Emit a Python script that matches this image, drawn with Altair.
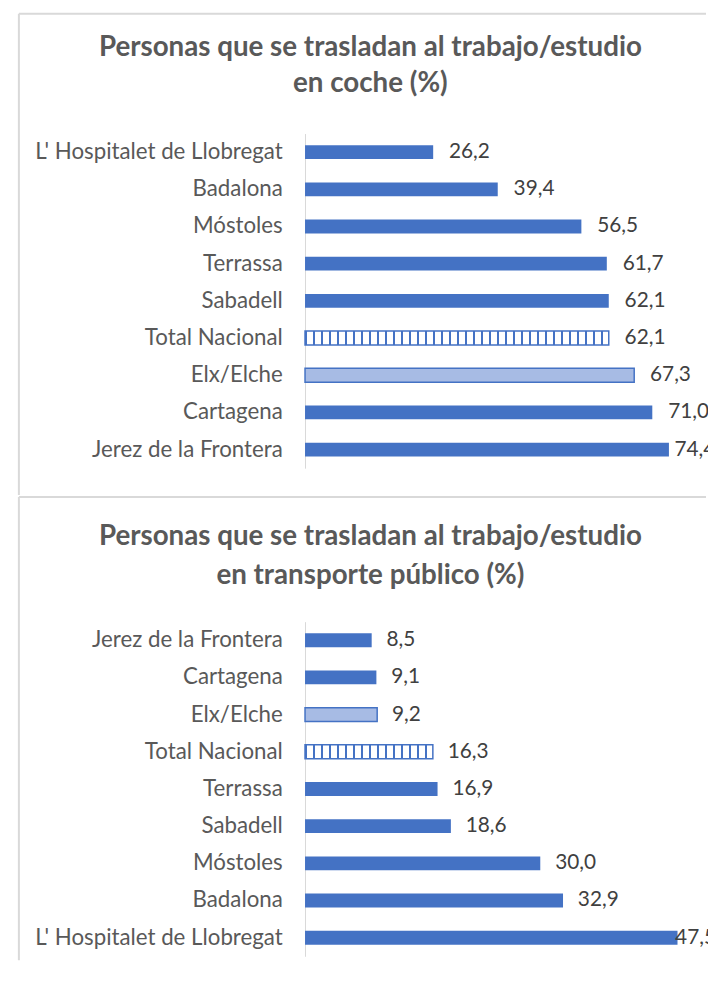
import altair as alt
import pandas as pd

# ---- data ----
cities_coche = ["L' Hospitalet de Llobregat", "Badalona", "Móstoles", "Terrassa", "Sabadell",
                "Total Nacional", "Elx/Elche", "Cartagena", "Jerez de la Frontera"]
coche = [26.2, 39.4, 56.5, 61.7, 62.1, 62.1, 67.3, 71.0, 74.4]

cities_tp = ["Jerez de la Frontera", "Cartagena", "Elx/Elche", "Total Nacional", "Terrassa",
             "Sabadell", "Móstoles", "Badalona", "L' Hospitalet de Llobregat"]
tp = [8.5, 9.1, 9.2, 16.3, 16.9, 18.6, 30.0, 32.9, 47.5]

title_coche = ["Personas que se trasladan al trabajo/estudio", "en coche (%)"]
title_tp = ["Personas que se trasladan al trabajo/estudio", "en transporte público (%)"]

# ---- style ----
BLUE = "#4472C4"
DOT_FILL = "#A7BBE4"
GRID = "#D9D9D9"
FONT = "Lato"
W = 407
H = 338


def stripes(n):
    stops = []
    for i in range(n):
        a = i / n
        b = min((i + 0.25) / n, 1.0)
        c = min((i + 1) / n, 1.0)
        stops += [
            alt.GradientStop(color=BLUE, offset=a),
            alt.GradientStop(color=BLUE, offset=b),
            alt.GradientStop(color="white", offset=b),
            alt.GradientStop(color="white", offset=c),
        ]
    return alt.LinearGradient(gradient="linear", stops=stops, x1=0, x2=1, y1=0, y2=0)


def panel(cities, values, dom_max, cap, dx, n_stripes, title, title_y, top_rule_y, bottom_y):
    df = pd.DataFrame({"ciudad": cities, "valor": values})
    base = alt.Chart(df).transform_calculate(
        etiqueta="replace(format(datum.valor, '.1f'), '.', ',')",
        lx=f"min(datum.valor, {cap})",
    )
    y = alt.Y(
        "ciudad:N",
        sort=cities,
        title=None,
        scale=alt.Scale(paddingInner=0.627, paddingOuter=0.3135),
        axis=alt.Axis(labelFont=FONT, labelFontSize=22.5, labelColor="#595959",
                      labelPadding=23, ticks=False, domainColor=GRID, domainWidth=1,
                      labelLimit=400, grid=False),
    )
    xs = alt.Scale(domain=[0, dom_max])
    x = alt.X("valor:Q", scale=xs, axis=None)

    solid = base.transform_filter(
        "datum.ciudad != 'Total Nacional' && datum.ciudad != 'Elx/Elche'"
    ).mark_bar(color=BLUE).encode(x=x, y=y)
    total = base.transform_filter("datum.ciudad == 'Total Nacional'").mark_bar(
        fill=stripes(n_stripes), stroke=BLUE, strokeWidth=1.5
    ).encode(x=x, y=y)
    elx = base.transform_filter("datum.ciudad == 'Elx/Elche'").mark_bar(
        fill=DOT_FILL, stroke=BLUE, strokeWidth=1.5
    ).encode(x=x, y=y)
    labels = base.mark_text(
        align="left", baseline="middle", dx=dx, font=FONT, fontSize=21,
        color="#404040", clip=True
    ).encode(x=alt.X("lx:Q", scale=xs, axis=None), y=y, text="etiqueta:N")

    frame = alt.Chart(pd.DataFrame({"k": [0]}))
    left_line = frame.mark_rule(color=GRID, strokeWidth=2).encode(
        x=alt.value(-289), y=alt.value(top_rule_y), y2=alt.value(bottom_y)
    )
    top_line = frame.mark_rule(color=GRID, strokeWidth=2).encode(
        x=alt.value(-289), x2=alt.value(405), y=alt.value(top_rule_y)
    )
    t1 = frame.mark_text(align="center", baseline="middle", font=FONT, fontSize=28,
                         fontWeight="bold", color="#595959").encode(
        x=alt.value(66), y=alt.value(title_y[0]), text=alt.value(title[0]))
    t2 = frame.mark_text(align="center", baseline="middle", font=FONT, fontSize=28,
                         fontWeight="bold", color="#595959").encode(
        x=alt.value(66), y=alt.value(title_y[1]), text=alt.value(title[1]))
    return alt.layer(solid, total, elx, labels, left_line, top_line, t1, t2).properties(
        width=W, height=H
    )


p1 = panel(cities_coche, coche, W / 4.94, 72.3, 16, 38, title_coche, (-86, -50), -121, 365)
p2 = panel(cities_tp, tp, W / 7.92, 45.3, 15, 16, title_tp, (-85, -46), -126, 342)

chart = alt.vconcat(p1, p2, spacing=0).properties(
    padding={"left": 10, "top": 0, "right": 0, "bottom": 0}
).configure_view(strokeWidth=0)

chart.save("out.html", embed_options={"renderer": "svg", "actions": False})
